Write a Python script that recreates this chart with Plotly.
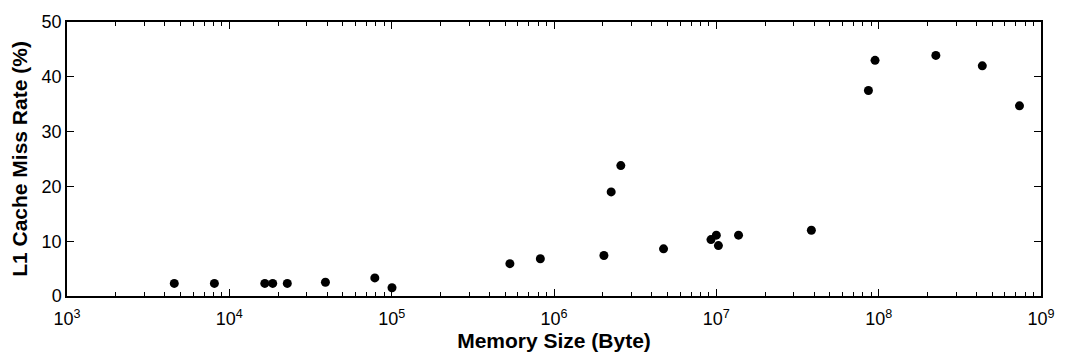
import plotly.graph_objects as go

# Memory footprint (bytes) and measured L1 cache miss rate (%)
memory_size = [4580, 8090, 16540, 18500, 22760, 39080, 78740, 100460,
               535000, 824000, 2.03e6, 2.25e6, 2.58e6, 4.73e6, 9.27e6,
               1.0e7, 1.03e7, 1.37e7, 3.85e7, 8.65e7, 9.5e7, 2.25e8,
               4.35e8, 7.37e8]
miss_rate = [2.3, 2.3, 2.3, 2.3, 2.3, 2.5, 3.3, 1.5,
             5.9, 6.8, 7.4, 19.0, 23.8, 8.6, 10.3,
             11.1, 9.2, 11.1, 12.0, 37.5, 43.0, 43.9,
             42.0, 34.7]

x_exponents = [3, 4, 5, 6, 7, 8, 9]
x_tick_vals = [10 ** e for e in x_exponents]
x_tick_text = [f"10<sup>{e}</sup>" for e in x_exponents]
x_minor_vals = [m * 10 ** e for e in x_exponents[:-1] for m in range(2, 10)]
y_tick_vals = [0, 10, 20, 30, 40, 50]

font_family = "Liberation Sans, Arial, Helvetica, sans-serif"

fig = go.Figure(
    go.Scatter(
        x=memory_size,
        y=miss_rate,
        mode="markers",
        marker=dict(color="black", size=9, line=dict(width=0)),
        hoverinfo="x+y",
    )
)

fig.update_layout(
    width=1067,
    height=360,
    margin=dict(l=67, r=20, t=13, b=64),
    paper_bgcolor="white",
    plot_bgcolor="white",
    showlegend=False,
    font=dict(family=font_family, color="black", size=18),
)

fig.update_xaxes(
    type="log",
    range=[3, 9],
    tickmode="array",
    tickvals=x_tick_vals,
    ticktext=x_tick_text,
    ticks="inside",
    ticklen=7,
    tickwidth=1,
    tickcolor="black",
    minor=dict(tickmode="array", tickvals=x_minor_vals, ticks="inside",
               ticklen=4, tickwidth=1, tickcolor="black"),
    showline=True,
    linecolor="black",
    linewidth=1.5,
    mirror="ticks",
    showgrid=False,
    zeroline=False,
    tickfont=dict(size=18),
    ticklabelstandoff=6,
    title=dict(text="<b>Memory Size (Byte)</b>", font=dict(size=21), standoff=4),
)

fig.update_yaxes(
    range=[0, 50],
    tickmode="array",
    tickvals=y_tick_vals,
    ticks="inside",
    ticklen=7,
    tickwidth=1,
    tickcolor="black",
    showline=True,
    linecolor="black",
    linewidth=1.5,
    mirror="ticks",
    showgrid=False,
    zeroline=False,
    tickfont=dict(size=18),
    title=dict(text="<b>L1 Cache Miss Rate (%)</b>", font=dict(size=21), standoff=8),
)

fig.write_html("out.html")
